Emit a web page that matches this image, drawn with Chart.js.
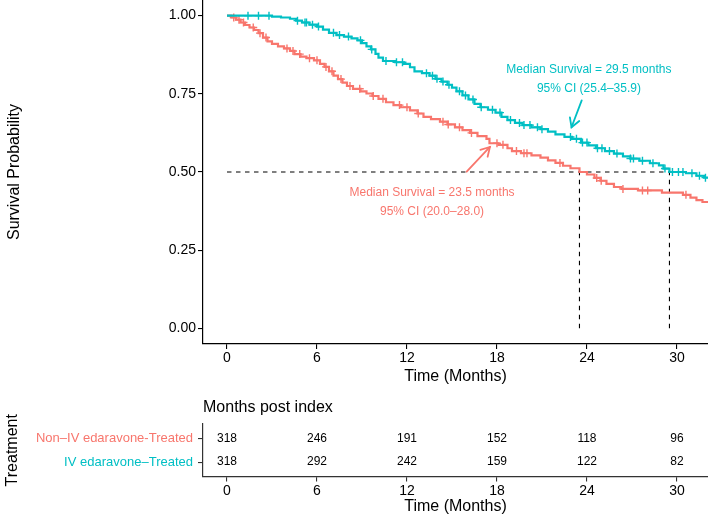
<!DOCTYPE html>
<html>
<head>
<meta charset="utf-8">
<script src="https://cdn.jsdelivr.net/npm/chart.js@4.4.1/dist/chart.umd.min.js"></script>
<style>
  html, body { margin: 0; padding: 0; background: #fff; }
  #wrap { position: relative; width: 708px; height: 524px; }
  #km { position: absolute; left: 0; top: 0; }
  #risk { position: absolute; left: 0; top: 390px; }
</style>
</head>
<body>
<div id="wrap">
  <canvas id="km" width="708" height="390"></canvas>
  <canvas id="risk" width="708" height="134"></canvas>
</div>
<script>
// ---------------- data ----------------
const groups = ['Non–IV edaravone-Treated', 'IV edaravone–Treated'];
const monthTicks = [0, 6, 12, 18, 24, 30];
const survTicks = [0, 0.25, 0.5, 0.75, 1];
const riskNonIV = [318, 246, 191, 152, 118, 96];
const riskIV = [318, 292, 242, 159, 122, 82];

// IV edaravone-treated: event times (months) and survival after each step
const ivTimes = [0, 3.0, 3.6, 4.2, 4.6, 5.0, 5.5, 6.0, 6.4, 6.8, 7.3, 7.8, 8.3, 8.7, 9.0, 9.3, 9.6, 9.9, 10.1, 10.4,
  11.2, 11.8, 12.2, 12.5, 13.0, 13.5, 13.9, 14.3, 14.7, 15.0, 15.3, 15.7, 16.1, 16.5, 16.9, 17.4, 17.9, 18.3, 18.7,
  19.2, 19.7, 20.3, 20.9, 21.4, 21.9, 22.5, 23.0, 23.6, 24.1, 24.6, 25.2, 25.8, 26.4, 26.9, 27.5, 28.2, 28.8, 29.1,
  29.5, 30.6, 31.3, 31.8];
const ivSurv = [1.000, 0.997, 0.994, 0.990, 0.984, 0.978, 0.971, 0.965, 0.955, 0.945, 0.938, 0.933, 0.927, 0.921,
  0.912, 0.902, 0.892, 0.878, 0.866, 0.855, 0.851, 0.846, 0.835, 0.822, 0.816, 0.808, 0.798, 0.789, 0.779, 0.770,
  0.758, 0.745, 0.732, 0.718, 0.707, 0.699, 0.690, 0.676, 0.666, 0.657, 0.650, 0.643, 0.637, 0.629, 0.620, 0.612,
  0.606, 0.594, 0.585, 0.576, 0.567, 0.559, 0.550, 0.543, 0.536, 0.528, 0.521, 0.511, 0.500, 0.496, 0.488, 0.482];
const ivCensor = [1.4, 2.1, 2.8, 4.7, 5.2, 5.3, 5.7, 6.1, 7.1, 7.5, 8.1, 8.9, 9.65, 10.6, 11.3, 11.7, 13.3, 13.7,
  14.0, 14.4, 14.8, 15.5, 15.9, 16.4, 16.95, 17.7, 18.2, 18.9, 19.5, 19.8, 20.2, 20.7, 21.0, 22.9, 23.3, 23.7, 24.0,
  24.7, 25.0, 25.5, 26.0, 26.9, 27.1, 27.7, 28.4, 29.2, 29.7, 30.1, 30.4, 31.0, 31.5, 31.9, 33.0];

// Non-IV edaravone-treated
const nonTimes = [0, 0.3, 0.6, 0.9, 1.2, 1.5, 1.8, 2.1, 2.4, 2.7, 3.0, 3.4, 3.8, 4.2, 4.5, 4.9, 5.3, 5.8, 6.2, 6.5,
  6.8, 7.1, 7.4, 7.7, 8.0, 8.4, 8.9, 9.3, 9.7, 10.1, 10.6, 11.1, 11.6, 12.2, 12.7, 13.1, 13.6, 14.2, 14.7, 15.2,
  15.7, 16.2, 16.7, 17.3, 17.5, 18.1, 18.7, 19.0, 19.6, 20.3, 20.9, 21.4, 21.9, 22.4, 22.9, 23.5, 24.0, 24.5, 24.9,
  25.3, 25.8, 26.3, 27.4, 29.0, 30.4, 30.9, 31.3, 31.7];
const nonSurv = [1.000, 0.994, 0.987, 0.978, 0.970, 0.962, 0.954, 0.944, 0.930, 0.918, 0.910, 0.902, 0.895, 0.887,
  0.877, 0.869, 0.864, 0.857, 0.846, 0.836, 0.822, 0.808, 0.797, 0.786, 0.775, 0.766, 0.758, 0.751, 0.743, 0.734,
  0.723, 0.714, 0.707, 0.697, 0.687, 0.676, 0.669, 0.661, 0.652, 0.643, 0.634, 0.625, 0.615, 0.606, 0.592, 0.587,
  0.576, 0.567, 0.560, 0.553, 0.546, 0.537, 0.529, 0.520, 0.512, 0.500, 0.492, 0.481, 0.472, 0.462, 0.452, 0.446,
  0.441, 0.434, 0.427, 0.418, 0.410, 0.404];
const nonCensor = [0.45, 0.8, 1.1, 1.75, 2.2, 2.6, 4.0, 4.4, 4.85, 5.5, 6.0, 6.6, 7.0, 7.6, 8.2, 8.85, 9.75, 10.4,
  11.5, 12.0, 12.75, 14.4, 14.75, 15.5, 16.3, 18.0, 18.4, 19.3, 19.8, 20.0, 22.2, 24.65, 24.95, 26.4, 27.7, 28.05,
  30.6, 33.0];

const medianIV = 29.5, medianNon = 23.5;
const ciIV = [25.4, 35.9], ciNon = [20.0, 28.0];

// ---------------- styling / layout ----------------
const RED = '#F8766D', TEAL = '#00BFC4';
const FONT = '"Liberation Sans", Arial, Helvetica, sans-serif';
Chart.defaults.font.family = FONT;
Chart.defaults.color = '#000';
const X_MIN = -1.6, X_MAX = 32.07;

function buildCurve(times, surv, censor) {
  const pts = times.map((t, i) => ({ x: t, y: surv[i], c: false }));
  censor.forEach(c => {
    let s = surv[0];
    for (let i = 0; i < times.length; i++) if (times[i] <= c) s = surv[i];
    pts.push({ x: c, y: s, c: true });
  });
  pts.sort((a, b) => a.x - b.x || (a.c - b.c));
  return pts;
}

function curveDataset(label, pts, color) {
  return {
    label, data: pts, showLine: true, stepped: 'before',
    borderColor: color, borderWidth: 2.2, backgroundColor: color,
    pointStyle: 'cross',
    pointRadius: ctx => (ctx.raw && ctx.raw.c ? 4 : 0),
    pointBorderWidth: 1.4, pointBorderColor: color,
    pointHoverRadius: 0, fill: false, order: 1
  };
}

function dashDataset(pts) {
  return {
    data: pts, showLine: true, borderColor: '#000', borderWidth: 1.1,
    borderDash: [4.5, 4.5], pointRadius: 0, fill: false, order: 2
  };
}

const notes = [
  { color: TEAL, tx: 24.13, ty: [0.826, 0.768],
    lines: [`Median Survival = ${medianIV} months`, `95% CI (${ciIV[0].toFixed(1)}–${ciIV[1].toFixed(1)})`],
    from: [23.65, 0.729], to: [22.97, 0.643] },
  { color: RED, tx: 13.67, ty: [0.433, 0.373],
    lines: [`Median Survival = ${medianNon} months`, `95% CI (${ciNon[0].toFixed(1)}–${ciNon[1].toFixed(1)})`],
    from: [15.98, 0.501], to: [17.53, 0.580] }
];

const annotPlugin = {
  id: 'annot',
  afterDatasetsDraw(chart) {
    const { ctx, scales: { x, y } } = chart;
    ctx.save();
    ctx.font = '12px ' + FONT;
    ctx.textAlign = 'center';
    ctx.textBaseline = 'middle';
    notes.forEach(n => {
      ctx.fillStyle = n.color;
      n.lines.forEach((t, i) => ctx.fillText(t, x.getPixelForValue(n.tx), y.getPixelForValue(n.ty[i])));
      const x1 = x.getPixelForValue(n.from[0]), y1 = y.getPixelForValue(n.from[1]);
      const x2 = x.getPixelForValue(n.to[0]), y2 = y.getPixelForValue(n.to[1]);
      ctx.strokeStyle = n.color; ctx.lineWidth = 1.8; ctx.lineCap = 'round';
      ctx.beginPath(); ctx.moveTo(x1, y1); ctx.lineTo(x2, y2); ctx.stroke();
      const a = Math.atan2(y2 - y1, x2 - x1), L = 10, sp = Math.PI / 6;
      ctx.beginPath();
      ctx.moveTo(x2 - L * Math.cos(a - sp), y2 - L * Math.sin(a - sp));
      ctx.lineTo(x2, y2);
      ctx.lineTo(x2 - L * Math.cos(a + sp), y2 - L * Math.sin(a + sp));
      ctx.stroke();
    });
    ctx.restore();
  }
};

function noPad(s) { s.paddingTop = 0; s.paddingBottom = 0; s.paddingLeft = 0; s.paddingRight = 0; }

const axisGrid = { display: true, drawOnChartArea: false, drawTicks: true, tickLength: 5, color: '#000', lineWidth: 1.1 };
const axisBorder = { display: true, color: '#000', width: 1.2 };

new Chart(document.getElementById('km'), {
  type: 'scatter',
  data: {
    datasets: [
      curveDataset(groups[1], buildCurve(ivTimes, ivSurv, ivCensor), TEAL),
      curveDataset(groups[0], buildCurve(nonTimes, nonSurv, nonCensor), RED),
      dashDataset([{ x: 0, y: 0.5 }, { x: Math.max(medianIV, medianNon), y: 0.5 }]),
      dashDataset([{ x: medianNon, y: 0 }, { x: medianNon, y: 0.5 }]),
      dashDataset([{ x: medianIV, y: 0 }, { x: medianIV, y: 0.5 }])
    ]
  },
  options: {
    responsive: false, animation: false, events: [],
    layout: { padding: 0, autoPadding: false },
    plugins: { legend: { display: false }, tooltip: { enabled: false }, title: { display: false } },
    scales: {
      x: {
        type: 'linear', position: 'bottom', min: X_MIN, max: X_MAX,
        afterBuildTicks: s => { s.ticks = monthTicks.map(v => ({ value: v })); },
        afterFit: s => { s.height = 46; noPad(s); },
        grid: axisGrid, border: axisBorder,
        ticks: { font: { size: 14 }, color: '#000', padding: 1, maxRotation: 0, callback: v => String(v) },
        title: { display: true, text: 'Time (Months)', font: { size: 16 }, color: '#000', padding: { top: 0, bottom: 3.4 } }
      },
      y: {
        type: 'linear', position: 'left', min: -0.05, max: 1.05,
        afterBuildTicks: s => { s.ticks = survTicks.map(v => ({ value: v })); },
        afterFit: s => { s.width = 203; noPad(s); },
        grid: axisGrid, border: axisBorder,
        ticks: { font: { size: 14 }, color: '#000', padding: 2, callback: v => Number(v).toFixed(2) },
        title: { display: true, text: 'Survival Probability', font: { size: 16 }, color: '#000', padding: { top: 5.4, bottom: 0 } }
      }
    }
  },
  plugins: [annotPlugin]
});

// ---------------- risk table ----------------
const riskRows = [riskNonIV, riskIV];   // row values 2 and 1
const riskPlugin = {
  id: 'riskText',
  afterDatasetsDraw(chart) {
    const { ctx, scales: { x, y } } = chart;
    ctx.save();
    ctx.font = '12px ' + FONT;
    ctx.fillStyle = '#000';
    ctx.textAlign = 'center';
    ctx.textBaseline = 'middle';
    riskRows.forEach((row, r) => {
      const yv = riskRows.length - r;
      row.forEach((n, i) => ctx.fillText(String(n), x.getPixelForValue(monthTicks[i]), y.getPixelForValue(yv)));
    });
    ctx.restore();
  }
};

new Chart(document.getElementById('risk'), {
  type: 'scatter',
  data: {
    datasets: riskRows.map((row, r) => ({
      data: row.map((n, i) => ({ x: monthTicks[i], y: riskRows.length - r })),
      pointRadius: 0, showLine: false
    }))
  },
  options: {
    responsive: false, animation: false, events: [],
    layout: { padding: 0, autoPadding: false },
    plugins: {
      legend: { display: false }, tooltip: { enabled: false },
      title: {
        display: true, text: 'Months post index', align: 'start', fullSize: false,
        font: { size: 16, weight: 'normal' }, color: '#000', padding: { top: 8, bottom: 6.8 }
      }
    },
    scales: {
      x: {
        type: 'linear', position: 'bottom', min: X_MIN, max: X_MAX,
        afterBuildTicks: s => { s.ticks = monthTicks.map(v => ({ value: v })); },
        afterFit: s => { s.height = 47.5; noPad(s); },
        grid: { ...axisGrid, color: '#333' }, border: { ...axisBorder, color: '#333' },
        ticks: { font: { size: 14 }, color: '#000', padding: 1, maxRotation: 0, callback: v => String(v) },
        title: { display: true, text: 'Time (Months)', font: { size: 16 }, color: '#000', padding: { top: 0, bottom: 7.4 } }
      },
      y: {
        type: 'linear', position: 'left', min: 0.4, max: 2.6,
        afterBuildTicks: s => { s.ticks = [2, 1].map(v => ({ value: v })); },
        afterFit: s => { s.width = 203; noPad(s); },
        grid: { ...axisGrid, color: '#333' }, border: { ...axisBorder, color: '#333' },
        ticks: {
          font: { size: 13 }, padding: 5,
          color: ctx => (ctx.tick && ctx.tick.value === 2 ? RED : TEAL),
          callback: v => groups[riskRows.length - v]
        },
        title: { display: true, text: 'Treatment', font: { size: 16 }, color: '#000', padding: { top: 3.4, bottom: 0 } }
      }
    }
  },
  plugins: [riskPlugin]
});
</script>
</body>
</html>
